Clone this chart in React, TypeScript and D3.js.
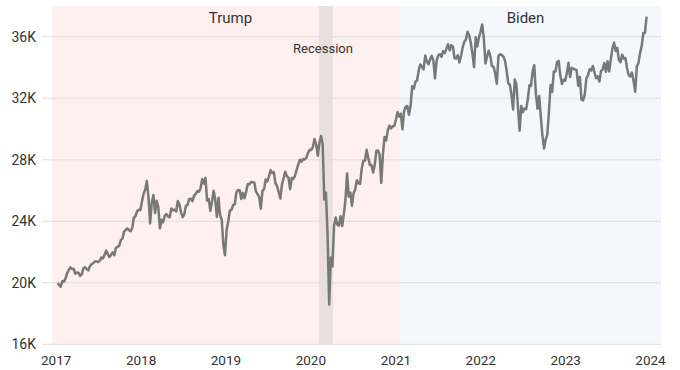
import React from 'react';
import * as d3 from 'd3';

// weekly closes (Fridays)
const weekStarts = ['2017-01-06', '2018-01-05', '2019-01-04', '2020-01-03', '2021-01-08', '2022-01-07', '2023-01-06'];

const dow2017 = [19964, 19886, 19732, 20094, 20071, 20269, 20624, 20821, 21005, 20903, 20915, 20597, 20663, 20656, 20453, 20548, 20941, 21007, 20897, 20805, 21080, 21206, 21272, 21384, 21395, 21350, 21414, 21638, 21580, 21830, 22092, 21858, 21674, 21814, 21988, 21798, 22268, 22350, 22405, 22774, 22871, 23329, 23434, 23539, 23422, 23358, 23558, 24231, 24329, 24652, 24754, 24719];
const dow2018 = [25296, 25803, 26072, 26617, 25521, 23860, 25220, 25710, 24538, 25336, 24946, 23533, 24103, 23933, 24360, 24463, 24311, 24263, 24831, 24715, 24753, 24635, 25317, 25090, 24581, 24271, 24456, 25019, 25058, 25451, 25463, 25313, 25669, 25790, 25965, 25917, 26154, 26744, 26458, 26828, 25340, 25444, 24688, 25270, 25989, 25413, 24286, 25538, 24389, 24101, 22445, 21792];
const dow2019 = [23433, 23996, 24706, 24737, 25064, 25106, 25883, 26031, 26026, 25450, 25849, 25502, 25929, 26425, 26412, 26559, 26543, 26505, 25942, 25764, 25586, 24815, 25983, 26090, 26719, 26600, 26922, 27332, 27154, 27192, 26485, 26287, 25886, 25479, 26403, 26797, 27220, 26935, 26820, 26078, 26817, 26770, 26958, 27347, 27681, 28005, 27876, 28051, 28015, 28135, 28455, 28645];
const dow2020 = [28635, 28824, 29348, 28990, 28256, 29103, 29551, 28992, 25409, 25865, 23186, 18592, 21637, 21053, 23719, 24242, 23775, 23724, 24331, 23685, 24465, 25383, 27111, 25606, 25871, 25016, 25827, 26075, 26672, 26470, 26428, 27433, 27931, 27930, 28654, 28133, 27666, 27657, 27174, 27683, 28587, 28606, 28336, 26502, 28323, 29480, 29263, 29910, 30218, 30046, 30179, 30200, 30606];
const dow2021 = [31098, 30814, 30997, 29983, 31148, 31458, 31494, 30932, 31496, 32779, 32628, 33073, 33153, 33801, 34200, 34043, 33875, 34778, 34382, 34208, 34529, 34756, 34480, 33290, 34434, 34786, 34870, 34688, 35062, 34935, 35209, 35515, 35120, 35456, 35369, 34608, 34585, 34798, 34326, 34746, 35295, 35677, 35820, 36328, 36100, 35602, 34899, 34022, 35971, 35365, 35950, 36338];
const dow2022 = [36800, 35911, 34265, 34725, 35089, 34738, 34079, 34058, 33614, 32944, 34754, 34861, 34818, 34721, 34451, 33811, 32977, 32899, 32197, 31262, 33213, 32899, 31393, 29888, 31501, 31097, 31338, 31289, 31899, 32845, 32803, 33761, 34152, 32283, 31318, 32151, 30822, 29590, 28725, 29297, 29635, 31083, 32861, 32403, 33748, 33746, 34347, 34430, 33476, 32920, 33204, 33147];
const dow2023 = [33631, 34303, 33376, 33978, 33926, 33869, 33827, 32817, 33391, 31910, 31862, 32238, 33274, 33485, 33886, 33809, 34098, 33674, 33300, 33427, 33093, 33763, 33877, 34299, 33727, 34408, 33735, 34509, 35228, 35630, 35066, 35281, 34500, 34346, 34838, 34577, 34618, 33964, 33508, 33407, 33670, 33127, 32418, 34061, 34283, 34947, 35390, 36246, 36248, 37306];
const yearSeries = [dow2017, dow2018, dow2019, dow2020, dow2021, dow2022, dow2023];

const eras = [
  { label: 'Trump', start: '2016-12-14', end: '2021-01-20', fill: '#fdf0ef' },
  { label: 'Biden', start: '2021-01-20', end: '2024-02-15', fill: '#f4f8fd' },
];
const recession = { label: 'Recession', start: '2020-02-05', end: '2020-04-05' };

const yTicks = [16000, 20000, 24000, 28000, 32000, 36000];
const xTicks = ['2017', '2018', '2019', '2020', '2021', '2022', '2023', '2024'];

const font = 'Roboto, "Liberation Sans", Arial, sans-serif';

export default function App() {
  const parse = d3.utcParse('%Y-%m-%d');
  const x = d3.scaleUtc()
    .domain([parse('2016-12-14'), parse('2024-02-15')])
    .range([52, 661]);
  const y = d3.scaleLinear()
    .domain([16000, 38000])
    .range([344.3, 6]);

  const points: { date: Date; value: number }[] = [];
  yearSeries.forEach((vals, i) => {
    const start = parse(weekStarts[i]);
    vals.forEach((v, j) => {
      points.push({ date: d3.utcWeek.offset(start, j), value: v });
    });
  });

  const line = d3.line<{ date: Date; value: number }>()
    .x(d => x(d.date))
    .y(d => y(d.value));

  const top = y(38000);
  const bottom = y(16000);

  return (
    <svg width={680} height={370} style={{ position: 'absolute', left: 0, top: 0, fontFamily: font }}>
      {eras.map(e => (
        <rect key={e.label} x={x(parse(e.start))} y={top}
          width={x(parse(e.end)) - x(parse(e.start))} height={bottom - top} fill={e.fill} />
      ))}
      <rect x={x(parse(recession.start))} y={top}
        width={x(parse(recession.end)) - x(parse(recession.start))} height={bottom - top} fill="#e8dfde" />

      {yTicks.map(t => (
        <g key={t}>
          <line x1={42} x2={661} y1={y(t)} y2={y(t)} stroke="#dedede" strokeWidth={1} />
          <text x={36} y={y(t)} dy="0.35em" textAnchor="end" fontSize={14} fill="#333">{d3.format('d')(t / 1000)}K</text>
        </g>
      ))}

      {xTicks.map(t => (
        <text key={t} x={x(parse(t + '-01-01'))} y={365} textAnchor="middle" fontSize={13.5} fill="#333">{t}</text>
      ))}

      <path d={line(points) || ''} fill="none" stroke="#787878" strokeWidth={2.5} strokeLinejoin="round" />

      <text x={230.5} y={23} textAnchor="middle" fontSize={15} fill="#333">{eras[0].label}</text>
      <text x={525.5} y={23} textAnchor="middle" fontSize={15} fill="#333">{eras[1].label}</text>
      <text x={323} y={53} textAnchor="middle" fontSize={13} fill="#333">{recession.label}</text>
    </svg>
  );
}
